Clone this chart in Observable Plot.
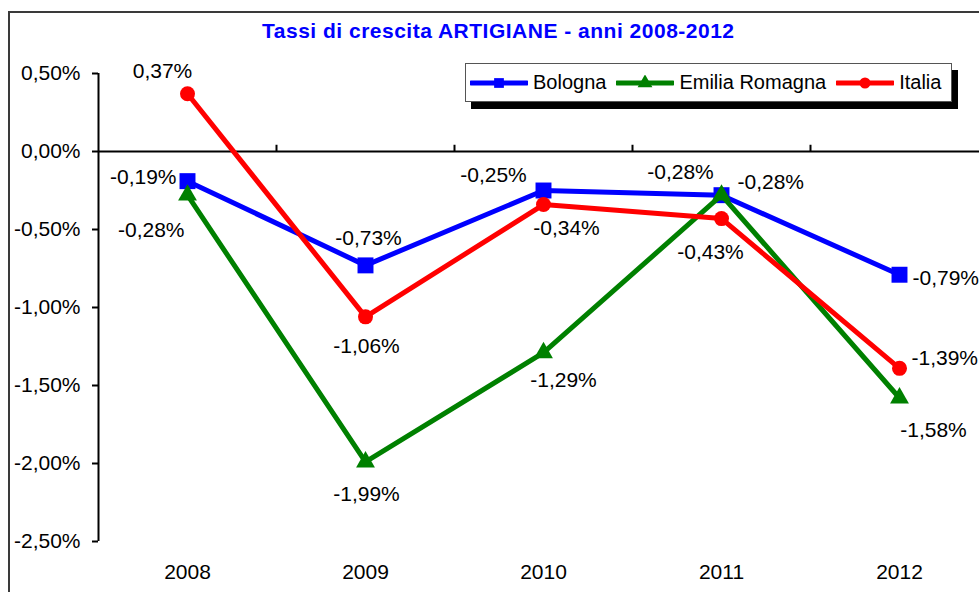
<!DOCTYPE html>
<html>
<head>
<meta charset="utf-8">
<script src="https://cdn.jsdelivr.net/npm/d3@7"></script>
<script src="https://cdn.jsdelivr.net/npm/@observablehq/plot@0.6"></script>
<style>
  html, body { margin: 0; padding: 0; background: #fff; }
  #wrap { position: relative; width: 979px; height: 592px; overflow: hidden; font-family: "Liberation Sans", Arial, sans-serif; }
  #frame { position: absolute; left: 8px; top: 11px; width: 1100px; height: 800px; border: 2px solid #3a3a3a; box-sizing: border-box; }
  #chart { position: absolute; left: 0; top: 0; }
  #title { position: absolute; left: 262px; top: 20px; font-size: 21px; line-height: 21px; font-weight: bold; color: #0000FF; letter-spacing: 0.5px; white-space: nowrap; }
  #legend { position: absolute; left: 465px; top: 63px; width: 487px; height: 39px; box-sizing: border-box; border: 1px solid #555; background: #fff; box-shadow: 6px 7px 0 #000; display: flex; align-items: center; padding-left: 4px; font-size: 20px; white-space: nowrap; }
  .item { display: flex; align-items: center; margin-right: 10px; }
  .item svg { margin-right: 5px; }
</style>
</head>
<body>
<div id="wrap">
  <div id="frame"></div>
  <div id="chart"></div>
  <div id="title">Tassi di crescita ARTIGIANE - anni 2008-2012</div>
  <div id="legend"></div>
</div>
<script>
// ---- data ----
const years = [2008, 2009, 2010, 2011, 2012];
const seriesNames = ["Bologna", "Emilia Romagna", "Italia"];
const bologna = [-0.19, -0.73, -0.25, -0.28, -0.79];
const emiliaRomagna = [-0.28, -1.99, -1.29, -0.28, -1.58];
const italia = [0.37, -1.06, -0.34, -0.43, -1.39];
const yTicks = [-2.5, -2, -1.5, -1, -0.5, 0, 0.5];

// ---- styling / layout (not data) ----
const colors = ["#0000FF", "#008000", "#FF0000"];
const symbols = ["square", "triangle", "circle"];
const symbolR = [9, 7, 7.5];
// label placement per series, per year: [dx, dy, textAnchor]
const labelPlacement = [
  [[-11, -4, "end"], [3, -27, "middle"], [-50, -15, "middle"], [-41, -23, "middle"], [13, 4, "start"]],
  [[-3, 35, "end"], [1, 32, "middle"], [20, 28, "middle"], [16, -13, "start"], [34, 32, "middle"]],
  [[-25, -23, "middle"], [1, 29, "middle"], [23, 24, "middle"], [-11, 34, "middle"], [12, -10, "start"]]
];

const valuesBySeries = [bologna, emiliaRomagna, italia];
const rows = valuesBySeries.flatMap((vals, s) =>
  vals.map((v, i) => ({series: seriesNames[s], s, i, year: years[i], value: v})));

const fmt = v => (v < 0 ? "-" : "") + Math.abs(v).toFixed(2).replace(".", ",") + "%";

const marks = [
  Plot.ruleY([0], {x1: 2007.5, x2: 2012.5, stroke: "#000", strokeWidth: 2}),
  Plot.ruleX([2008.5, 2009.5, 2010.5, 2011.5, 2012.5], {y1: 0, y2: 0.04, stroke: "#000", strokeWidth: 2}),
  Plot.ruleX([2007.5], {y1: -2.5, y2: 0.5, stroke: "#000", strokeWidth: 2}),
  Plot.axisY({ticks: yTicks, tickFormat: fmt, tickSize: 6, tickPadding: 12, fontSize: 21, strokeWidth: 2, label: null}),
  Plot.axisX({ticks: years, tickFormat: d => String(d), tickSize: 0, tickPadding: 23, fontSize: 21, label: null})
];

seriesNames.forEach((name, s) => {
  const data = rows.filter(d => d.s === s);
  marks.push(Plot.line(data, {x: "year", y: "value", stroke: colors[s], strokeWidth: 5}));
  marks.push(Plot.dot(data, {x: "year", y: "value", symbol: symbols[s], r: symbolR[s], fill: colors[s], stroke: "none"}));
});

rows.forEach(d => {
  const [dx, dy, anchor] = labelPlacement[d.s][d.i];
  marks.push(Plot.text([d], {x: "year", y: "value", text: r => fmt(r.value), dx, dy, textAnchor: anchor, fontSize: 21, fill: "#000"}));
});

const chart = Plot.plot({
  width: 979,
  height: 592,
  marginLeft: 98,
  marginRight: 0,
  marginTop: 73,
  marginBottom: 51,
  style: {fontFamily: "'Liberation Sans', Arial, sans-serif", background: "transparent", color: "#000", overflow: "visible"},
  x: {type: "linear", domain: [2007.5, 2012.5], range: [98, 988]},
  y: {type: "linear", domain: [-2.5, 0.5], range: [541, 73]},
  marks
});
document.getElementById("chart").appendChild(chart);

// ---- legend ----
const legend = document.getElementById("legend");
seriesNames.forEach((name, s) => {
  const item = document.createElement("div");
  item.className = "item";
  const ns = "http://www.w3.org/2000/svg";
  const svg = document.createElementNS(ns, "svg");
  svg.setAttribute("width", 58);
  svg.setAttribute("height", 16);
  const line = document.createElementNS(ns, "line");
  line.setAttribute("x1", 1); line.setAttribute("x2", 57);
  line.setAttribute("y1", 8); line.setAttribute("y2", 8);
  line.setAttribute("stroke", colors[s]); line.setAttribute("stroke-width", 5);
  line.setAttribute("stroke-linecap", "round");
  svg.appendChild(line);
  const sym = document.createElementNS(ns, "path");
  const typ = {square: d3.symbolSquare, triangle: d3.symbolTriangle, circle: d3.symbolCircle}[symbols[s]];
  sym.setAttribute("d", d3.symbol(typ, Math.PI * 5.5 * 5.5)());
  sym.setAttribute("transform", "translate(29,8)");
  sym.setAttribute("fill", colors[s]);
  svg.appendChild(sym);
  item.appendChild(svg);
  const label = document.createElement("span");
  label.textContent = name;
  item.appendChild(label);
  legend.appendChild(item);
});
</script>
</body>
</html>
